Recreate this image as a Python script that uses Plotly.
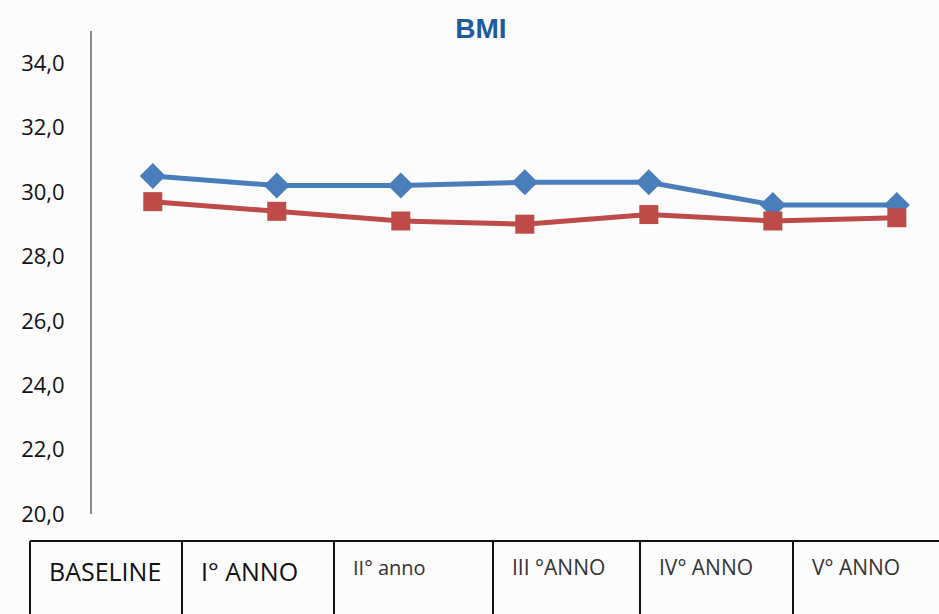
import plotly.graph_objects as go

# BMI over the follow-up years, two groups
blue_bmi = [30.5, 30.2, 30.2, 30.3, 30.3, 29.6, 29.6]
red_bmi = [29.7, 29.4, 29.1, 29.0, 29.3, 29.1, 29.2]

# Header cells of the table under the chart
period_labels = ["BASELINE", "I° ANNO", "II° anno", "III °ANNO", "IV° ANNO", "V° ANNO"]
label_sizes = [25, 25, 20, 21, 21, 21]
label_colors = ["#111111", "#111111", "#333333", "#333333", "#333333", "#333333"]
cell_edges_px = [30, 182, 334, 493, 640, 793]

y_ticks = [20, 22, 24, 26, 28, 30, 32, 34]

W, H = 939, 614
ML, MR, MT, MB = 92, 0, 31, 100
plot_w = W - ML - MR
plot_h = H - MT - MB


def px_x(px):
    return (px - ML) / plot_w


def px_y(py):
    return (H - MB - py) / plot_h


xs = list(range(len(blue_bmi)))

fig = go.Figure()
fig.add_trace(go.Scatter(
    x=xs, y=blue_bmi, mode="lines+markers",
    line=dict(color="#4A7EBB", width=5),
    marker=dict(symbol="diamond", size=20, color="#4A7EBB"),
    showlegend=False, cliponaxis=False,
))
fig.add_trace(go.Scatter(
    x=xs, y=red_bmi, mode="lines+markers",
    line=dict(color="#BE4B48", width=5),
    marker=dict(symbol="square", size=19, color="#BE4B48"),
    showlegend=False, cliponaxis=False,
))

shapes = []
table_top = 541
# top border of the table
shapes.append(dict(type="line", xref="paper", yref="paper",
                   x0=px_x(cell_edges_px[0]), x1=px_x(W + 5),
                   y0=px_y(table_top), y1=px_y(table_top),
                   line=dict(color="#111111", width=2)))
for e in cell_edges_px:
    shapes.append(dict(type="line", xref="paper", yref="paper",
                       x0=px_x(e), x1=px_x(e),
                       y0=px_y(table_top), y1=px_y(H + 5),
                       line=dict(color="#111111", width=2)))

annotations = []
for i, lab in enumerate(period_labels):
    yc = 571 if i < 2 else 567
    annotations.append(dict(
        text=lab, xref="paper", yref="paper",
        x=px_x(cell_edges_px[i] + 17), y=px_y(yc),
        xanchor="left", yanchor="middle", showarrow=False,
        font=dict(family="Open Sans", size=label_sizes[i], color=label_colors[i]),
    ))

fig.update_layout(
    width=W, height=H,
    margin=dict(l=ML, r=MR, t=MT, b=MB),
    paper_bgcolor="#FCFCFC", plot_bgcolor="#FCFCFC",
    separators=",.",
    title=dict(text="<b>BMI</b>", x=481 / W, xanchor="center",
               y=1 - 28 / H, yanchor="middle",
               font=dict(family="Liberation Sans", size=28, color="#1F5A9E")),
    shapes=shapes, annotations=annotations,
)
fig.update_xaxes(range=[-0.49, 6.34], showgrid=False, zeroline=False,
                 showticklabels=False, showline=False)
fig.update_yaxes(range=[20, 35], tickvals=y_ticks, tickformat=".1f",
                 showgrid=False, zeroline=False,
                 showline=True, linecolor="#888888", linewidth=2,
                 ticks="", ticklabelstandoff=21,
                 tickfont=dict(family="Open Sans", size=22, color="#111111"))

fig.write_html("out.html")
